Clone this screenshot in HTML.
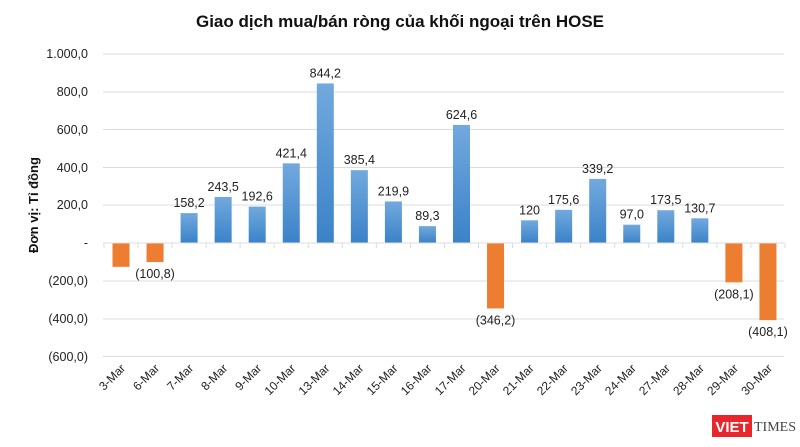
<!DOCTYPE html>
<html><head><meta charset="utf-8"><style>body{margin:0;background:#fff}svg{display:block}</style></head>
<body>
<svg width="800" height="447" xmlns="http://www.w3.org/2000/svg" font-family="Liberation Sans, sans-serif">
<defs>
<linearGradient id="b" x1="0" y1="0" x2="0" y2="1"><stop offset="0" stop-color="#72a9de"/><stop offset="1" stop-color="#3a82c8"/></linearGradient>
</defs>
<text x="400" y="27" text-anchor="middle" font-size="17" font-weight="bold" fill="#111">Giao dịch mua/bán ròng của khối ngoại trên HOSE</text>
<g stroke="#d9dde3" stroke-width="1">
<line x1="103" x2="784" y1="54" y2="54"/><line x1="103" x2="784" y1="92" y2="92"/><line x1="103" x2="784" y1="129.5" y2="129.5"/><line x1="103" x2="784" y1="167.5" y2="167.5"/><line x1="103" x2="784" y1="205" y2="205"/><line x1="103" x2="784" y1="281" y2="281"/><line x1="103" x2="784" y1="319" y2="319"/><line x1="103" x2="784" y1="356.5" y2="356.5"/>
</g>
<g font-size="12.5" fill="#222" text-anchor="end">
<text x="88" y="58">1.000,0</text><text x="88" y="96">800,0</text><text x="88" y="134">600,0</text><text x="88" y="172">400,0</text><text x="88" y="209">200,0</text><text x="88" y="247">-</text><text x="88" y="285">(200,0)</text><text x="88" y="323">(400,0)</text><text x="88" y="361">(600,0)</text>
</g>
<text transform="translate(38,205) rotate(-90)" text-anchor="middle" font-size="13" font-weight="bold" fill="#111">Đơn vị: Tỉ đồng</text>
<g id="bars"></g>
<line x1="103" x2="784" y1="243" y2="243" stroke="#d9dde3"/>
<g id="ticks" stroke="#d9dde3"></g>
<g id="lbl" font-size="12.5" fill="#222" text-anchor="middle"></g>
<g id="xl" font-size="12" fill="#222" text-anchor="end"></g>
<g transform="translate(712,415)">
<rect x="0" y="0" width="40" height="22" fill="#e8262c"/>
<text x="20" y="17" text-anchor="middle" font-size="15" font-weight="bold" fill="#fff">VIET</text>
<text x="42" y="16" font-size="14" font-family="Liberation Serif, serif" fill="#444">TIMES</text>
</g>
<script>
var d=[["3-Mar",-126,null],["6-Mar",-100.8,"(100,8)"],["7-Mar",158.2,"158,2"],["8-Mar",243.5,"243,5"],["9-Mar",192.6,"192,6"],["10-Mar",421.4,"421,4"],["13-Mar",844.2,"844,2"],["14-Mar",385.4,"385,4"],["15-Mar",219.9,"219,9"],["16-Mar",89.3,"89,3"],["17-Mar",624.6,"624,6"],["20-Mar",-346.2,"(346,2)"],["21-Mar",120,"120"],["22-Mar",175.6,"175,6"],["23-Mar",339.2,"339,2"],["24-Mar",97,"97,0"],["27-Mar",173.5,"173,5"],["28-Mar",130.7,"130,7"],["29-Mar",-208.1,"(208,1)"],["30-Mar",-408.1,"(408,1)"]];
var ns="http://www.w3.org/2000/svg",k=0.189,y0=243;
function el(t,a,p,tx){var e=document.createElementNS(ns,t);for(var i in a)e.setAttribute(i,a[i]);if(tx)e.textContent=tx;document.getElementById(p).appendChild(e);}
d.forEach(function(r,i){var c=121+34.05*i,h=Math.abs(r[1])*k,neg=r[1]<0;
el("rect",{x:c-8.5,y:neg?y0:y0-h,width:17,height:h,fill:neg?"#ed7d31":"url(#b)"},"bars");
el("line",{x1:c+17,x2:c+17,y1:243,y2:248},"ticks");
if(r[2])el("text",{x:c,y:neg?y0+h+16:y0-h-6},"lbl",r[2]);
el("text",{x:0,y:0,transform:"translate("+(c+5)+",369) rotate(-45)"},"xl",r[0]);});
el("line",{x1:104,x2:104,y1:243,y2:248},"ticks");
</script>
</svg>
</body></html>
